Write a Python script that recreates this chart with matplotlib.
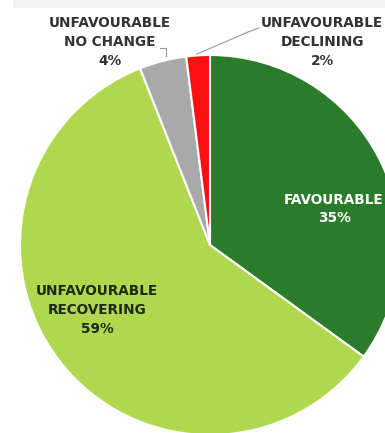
import matplotlib.pyplot as plt
from matplotlib.patches import Rectangle

# condition shares, clockwise from 12 o'clock
labels = ['FAVOURABLE', 'UNFAVOURABLE\nRECOVERING', 'UNFAVOURABLE\nNO CHANGE', 'UNFAVOURABLE\nDECLINING']
shares = [35, 59, 4, 2]
colors = ['#2a7b2a', '#afd84e', '#a9a9a9', '#ff1010']

W, H = 385, 433
fig = plt.figure(figsize=(W / 100, H / 100), dpi=100)
ax = fig.add_axes([0, 0, 1, 1])

cx, cy, r = 210, H - 245, 190
wedges, _ = ax.pie(shares, colors=colors, startangle=90, counterclock=False,
                   center=(cx, cy), radius=r, frame=True,
                   wedgeprops=dict(edgecolor='white', linewidth=1.5))
ax.set_xlim(0, W)
ax.set_ylim(0, H)
ax.set_aspect('equal')
ax.axis('off')

# faint band along the top edge
ax.add_patch(Rectangle((13, H - 8), W - 13, 8, color='#f3f3f3', lw=0, zorder=0))

font = dict(family='DejaVu Sans', fontweight='bold', fontsize=9.8, ha='center', va='center',
            linespacing=1.45)

ax.text(334, H - 209, f'{labels[0]}\n{shares[0]}%', color='white', **font)
ax.text(97, H - 310, f'{labels[1]}\n{shares[1]}%', color='#1e2a14', **font)
ax.text(110, H - 42, f'{labels[2]}\n{shares[2]}%', color='#333333', **font)
ax.text(322, H - 42, f'{labels[3]}\n{shares[3]}%', color='#333333', **font)

# leader lines for the two thin slices
ax.plot([160, 165.5, 165.5], [H - 48, H - 48, H - 56], color='#999999', lw=0.8)
ax.plot([197, 248, 259], [H - 54, H - 32, H - 28], color='#999999', lw=0.8)

fig.savefig('out.png', dpi=100)
